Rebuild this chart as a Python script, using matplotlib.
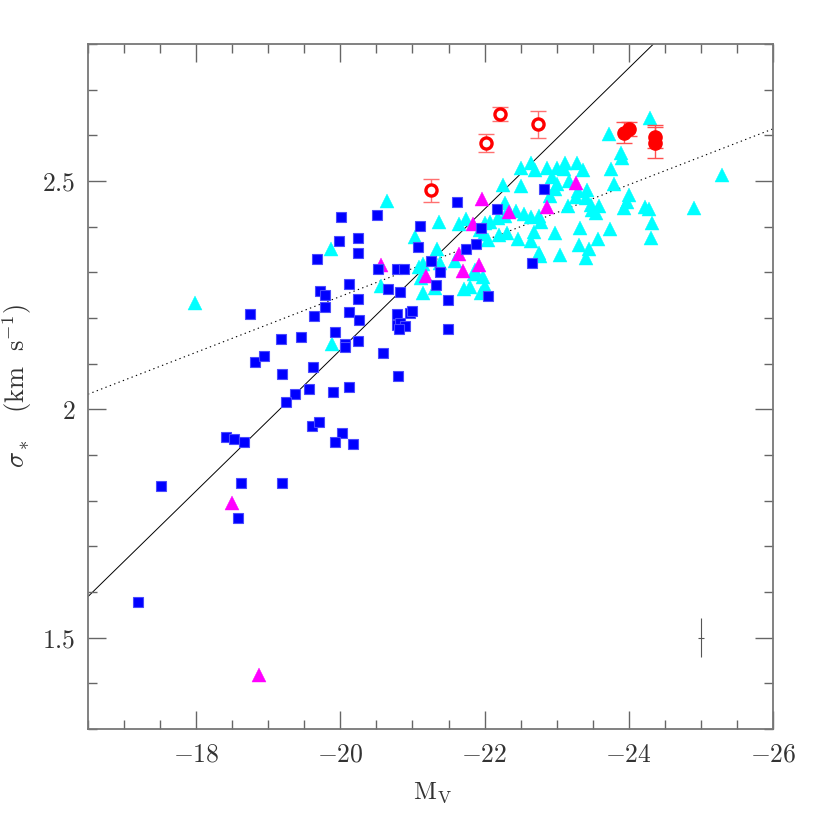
import numpy as np
import matplotlib
matplotlib.use("Agg")
import matplotlib.pyplot as plt
from matplotlib.ticker import MultipleLocator

# ---------------- data ----------------
# blue squares
blue_mv = [-18.75, -19.17, -19.46, -18.82, -18.94, -19.19, -19.62, -19.67, -19.98, -20.01,
           -20.24, -20.24, -20.51, -21.10, -21.08, -20.52, -20.78, -20.88, -20.12, -20.25,
           -20.66, -20.83, -19.72, -19.79, -19.78, -19.64, -20.12, -20.26, -20.79, -20.96,
           -21.00, -20.79, -20.83, -20.90, -20.81, -19.93, -20.07, -20.07, -20.25, -20.59,
           -20.80, -19.57, -19.37, -19.25, -19.90, -20.12, -18.42, -18.53, -18.66, -19.61,
           -19.71, -20.02, -19.93, -20.17, -17.51, -18.62, -19.19, -18.58, -17.19, -22.82,
           -21.62, -22.17, -21.95, -21.74, -21.88, -21.25, -21.38, -21.33, -21.49, -22.05,
           -22.66, -21.49]
blue_sig = [2.209, 2.155, 2.158, 2.103, 2.117, 2.078, 2.093, 2.330, 2.369, 2.422,
            2.375, 2.342, 2.425, 2.401, 2.356, 2.308, 2.307, 2.307, 2.274, 2.241,
            2.264, 2.257, 2.259, 2.250, 2.223, 2.204, 2.214, 2.195, 2.209, 2.210,
            2.216, 2.185, 2.189, 2.182, 2.176, 2.170, 2.143, 2.136, 2.149, 2.124,
            2.072, 2.045, 2.033, 2.016, 2.038, 2.049, 1.939, 1.935, 1.929, 1.963,
            1.973, 1.949, 1.929, 1.924, 1.832, 1.839, 1.839, 1.763, 1.579, 2.483,
            2.454, 2.439, 2.397, 2.351, 2.361, 2.324, 2.300, 2.273, 2.240, 2.248,
            2.320, 2.176]

# cyan triangles
cyan_mv = [-17.98, -20.64, -19.87, -20.56, -19.89, -21.04, -21.37, -21.34, -21.14, -21.12,
           -21.15, -21.64, -21.74, -21.38, -21.59, -21.31, -21.87, -21.86, -21.98, -22.01,
           -21.95, -21.71, -21.80, -21.94, -21.99, -22.05, -22.01, -22.07, -22.18, -22.29,
           -22.20, -22.31, -22.46, -22.28, -22.26, -22.44, -22.54, -22.65, -22.75, -22.78,
           -22.69, -22.65, -22.75, -22.77, -22.97, -23.04, -22.51, -22.51, -22.64, -22.70,
           -22.86, -22.93, -23.01, -23.11, -23.10, -23.28, -23.36, -22.91, -23.01, -22.98,
           -23.17, -23.29, -23.27, -23.42, -23.41, -23.16, -23.47, -23.58, -23.49, -23.54,
           -23.33, -23.31, -23.45, -23.40, -23.57, -23.74, -23.75, -23.80, -23.72, -23.89,
           -23.90, -24.00, -23.97, -23.94, -24.22, -24.28, -24.32, -24.31, -24.30, -24.91,
           -25.29, -21.09]
cyan_sig = [2.232, 2.456, 2.352, 2.269, 2.143, 2.378, 2.410, 2.351, 2.318, 2.287,
            2.254, 2.405, 2.417, 2.320, 2.325, 2.265, 2.305, 2.296, 2.290, 2.270,
            2.254, 2.263, 2.268, 2.393, 2.383, 2.371, 2.407, 2.411, 2.418, 2.423,
            2.382, 2.386, 2.373, 2.451, 2.491, 2.435, 2.428, 2.422, 2.423, 2.411,
            2.389, 2.369, 2.342, 2.335, 2.386, 2.337, 2.488, 2.528, 2.540, 2.523,
            2.528, 2.508, 2.528, 2.540, 2.526, 2.540, 2.525, 2.467, 2.493, 2.482,
            2.499, 2.479, 2.465, 2.480, 2.462, 2.446, 2.447, 2.445, 2.437, 2.429,
            2.398, 2.360, 2.350, 2.332, 2.372, 2.395, 2.527, 2.493, 2.604, 2.562,
            2.550, 2.470, 2.453, 2.440, 2.443, 2.439, 2.407, 2.375, 2.639, 2.440,
            2.513, 2.312]

# magenta triangles
mag_mv = [-18.50, -18.87, -20.56, -21.19, -21.64, -21.70, -21.84, -21.92, -21.97, -22.34,
          -22.86, -23.27]
mag_sig = [1.795, 1.418, 2.316, 2.293, 2.340, 2.303, 2.405, 2.316, 2.461, 2.433,
           2.442, 2.495]

# red open circles with errors
ropen_mv = [-21.26, -22.02, -22.21, -22.74]
ropen_sig = [2.480, 2.583, 2.646, 2.624]
ropen_err = [0.025, 0.020, 0.015, 0.029]

# red filled circles with errors
rfill_mv = [-23.94, -24.00, -24.36, -24.37]
rfill_sig = [2.606, 2.614, 2.597, 2.584]
rfill_err = [0.023, 0.015, 0.025, 0.034]

# fitted relations: sigma = a + b * M_V
fit_solid = (-0.956, -0.1543)
fit_dotted = (1.024, -0.06116)

# typical error bar
typ_mv, typ_sig, typ_xerr, typ_yerr = -25.0, 1.5, 0.04, 0.042

xtick_vals = [-18, -20, -22, -24, -26]
xtick_labels = [r'$-18$', r'$-20$', r'$-22$', r'$-24$', r'$-26$']
ytick_vals = [1.5, 2.0, 2.5]
ytick_labels = [r'$1.5$', r'$2$', r'$2.5$']

# ---------------- plot ----------------
plt.rcParams['mathtext.fontset'] = 'cm'
plt.rcParams['font.family'] = 'serif'

fig = plt.figure(figsize=(8.17, 8.17), dpi=100)
ax = fig.add_axes([88/817, 88/817, (773-88)/817, (773-88)/817])

xl = np.array([-16.5, -26.0])
ax.plot(xl, fit_solid[0] + fit_solid[1]*xl, color='black', lw=0.7, zorder=1)
ax.plot(xl, fit_dotted[0] + fit_dotted[1]*xl, color='black', lw=0.8,
        linestyle=(0, (1.2, 3.0)), zorder=1)

ax.plot(cyan_mv, cyan_sig, linestyle='none', marker='^', ms=10, color='#00ffff',
        mec='#00ffff', mew=0.3, zorder=2)
ax.plot(mag_mv, mag_sig, linestyle='none', marker='^', ms=10, color='#ff00ff',
        mec='#ff00ff', mew=0.3, zorder=3)
ax.plot(blue_mv, blue_sig, linestyle='none', marker='s', ms=7.6, color='#0000ff',
        mec='#4a4aff', mew=0.8, zorder=4)

ax.errorbar(ropen_mv, ropen_sig, yerr=ropen_err, fmt='none', ecolor='#ff7070',
            elinewidth=1.0, capsize=6, capthick=1.0, zorder=5)
ax.plot(ropen_mv, ropen_sig, linestyle='none', marker='o', ms=8, mfc='white',
        mec='#ff0000', mew=2.4, zorder=6)
ax.errorbar(rfill_mv, rfill_sig, yerr=rfill_err, fmt='none', ecolor='#ff5050',
            elinewidth=1.0, capsize=6, capthick=1.0, zorder=5)
ax.plot(rfill_mv, rfill_sig, linestyle='none', marker='o', ms=9.5, color='#ff0000',
        mec='#ff0000', zorder=6)

ax.errorbar([typ_mv], [typ_sig], xerr=[typ_xerr], yerr=[typ_yerr], fmt='none',
            ecolor='#555555', elinewidth=0.8, capsize=0, zorder=5)

ax.set_xlim(-16.5, -26.0)
ax.set_ylim(1.3, 2.8)

ax.set_xticks(xtick_vals)
ax.set_xticklabels(xtick_labels)
ax.set_yticks(ytick_vals)
ax.set_yticklabels(ytick_labels)
ax.xaxis.set_minor_locator(MultipleLocator(0.5))
ax.yaxis.set_minor_locator(MultipleLocator(0.1))

ax.tick_params(which='both', direction='in', top=True, right=True,
               color='#666666', width=1.0, labelsize=18.5, labelcolor='#333333')
ax.tick_params(which='major', length=13, pad=9)
ax.tick_params(which='minor', length=6.5)
for s in ax.spines.values():
    s.set_color('#777777')
    s.set_linewidth(1.3)

ax.set_xlabel(r'$\rm M_V$', fontsize=18, color='#333333', ha='center', va='center')
ax.set_ylabel(r'$\sigma_*\quad(\rm km\ \ s^{-1})$', fontsize=19, color='#333333',
              ha='center', va='center')
ax.xaxis.set_label_coords(0.5025, -0.093)
ax.yaxis.set_label_coords(-0.103, 0.5)

fig.savefig('out.png', dpi=100)
